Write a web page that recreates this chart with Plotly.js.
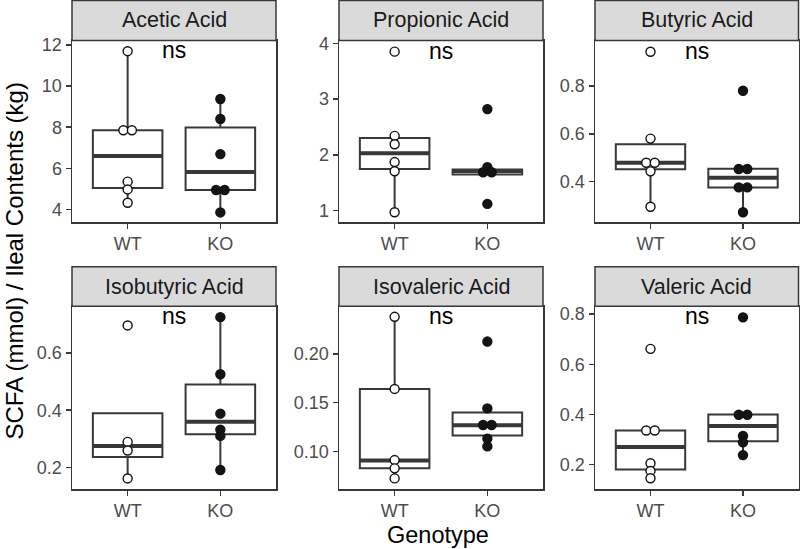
<!DOCTYPE html>
<html>
<head>
<meta charset="utf-8">
<script src="https://cdn.plot.ly/plotly-3.0.1.min.js"></script>
<style>html,body{margin:0;padding:0;background:#fff;}#chart{width:800px;height:549px;}</style>
</head>
<body>
<div id="chart"></div>
<script>
// ---- data ----
const acids = ['Acetic Acid','Propionic Acid','Butyric Acid','Isobutyric Acid','Isovaleric Acid','Valeric Acid'];
const groups = ['WT','KO'];

const wtPoints = [
  [11.7, 7.85, 7.85, 5.35, 4.97, 4.32],
  [3.85, 2.34, 2.19, 1.87, 1.705, 0.97],
  [0.943, 0.580, 0.479, 0.479, 0.443, 0.295],
  [0.697, 0.289, 0.259, 0.161],
  [0.2380, 0.1640, 0.0910, 0.0825, 0.0722],
  [0.6615, 0.336, 0.336, 0.2056, 0.175, 0.146]
];
const koPoints = [
  [9.37, 8.40, 6.69, 4.94, 4.94, 3.85],
  [2.82, 1.777, 1.687, 1.687, 1.12],
  [0.780, 0.453, 0.453, 0.376, 0.376, 0.272],
  [0.726, 0.526, 0.388, 0.332, 0.310, 0.1905],
  [0.2126, 0.144, 0.127, 0.127, 0.113, 0.105],
  [0.787, 0.399, 0.399, 0.314, 0.289, 0.238]
];

const wtQ1  = [5.04, 1.745, 0.452, 0.236, 0.0825, 0.181];
const wtMed = [6.60, 2.03, 0.479, 0.275, 0.0905, 0.270];
const wtQ3  = [7.85, 2.30, 0.556, 0.389, 0.164, 0.336];
const wtLo  = [4.32, 0.97, 0.295, 0.161, 0.0722, 0.146];
const wtHi  = [11.7, 2.34, 0.580, 0.389, 0.238, 0.336];
const koQ1  = [4.94, 1.645, 0.375, 0.316, 0.1162, 0.293];
const koMed = [5.82, 1.71, 0.416, 0.360, 0.1268, 0.354];
const koQ3  = [7.98, 1.735, 0.454, 0.490, 0.1397, 0.400];
const koLo  = [3.85, 1.645, 0.272, 0.1905, 0.105, 0.238];
const koHi  = [9.37, 1.735, 0.454, 0.726, 0.144, 0.400];

const yLo = [3.37, 0.79, 0.230, 0.124, 0.0613, 0.103];
const yHi = [12.22, 4.05, 0.990, 0.764, 0.2488, 0.831];

const yTickVals = [[4,6,8,10,12],[1,2,3,4],[0.4,0.6,0.8],[0.2,0.4,0.6],[0.10,0.15,0.20],[0.2,0.4,0.6,0.8]];
const yTickText = [['4','6','8','10','12'],['1','2','3','4'],['0.4','0.6','0.8'],['0.2','0.4','0.6'],['0.10','0.15','0.20'],['0.2','0.4','0.6','0.8']];

const sigLabel = 'ns';
const yTitle = 'SCFA (mmol) / Ileal Contents (kg)';
const xTitle = 'Genotype';

// ---- layout geometry (pixels) ----
const W = 800, H = 549;
const colPx = [[72, 276], [339, 543], [595, 798.5]];
const rowPx = [[40.5, 222.3], [306.3, 489]];   // panel top/bottom
const stripTop = [0.5, 266.7];
const FONT = 'Liberation Sans, Arial, Helvetica, sans-serif';
const LINE = '#383838';
const boxW = 0.75, dotStep = 0.092;

function stackOffsets(vals) {
  const counts = {}, idx = {};
  vals.forEach(v => counts[v] = (counts[v] || 0) + 1);
  return vals.map(v => {
    const k = idx[v] || 0; idx[v] = k + 1;
    return (k - (counts[v] - 1) / 2) * dotStep;
  });
}
function allPoints(i) { return wtPoints[i].concat(koPoints[i]); }

const traces = [], shapes = [], annotations = [];
const layout = {
  width: W, height: H, margin: {l: 0, r: 0, t: 0, b: 0},
  paper_bgcolor: '#fff', plot_bgcolor: '#fff', showlegend: false,
  font: {family: FONT}
};

acids.forEach((name, i) => {
  const r = Math.floor(i / 3), c = i % 3;
  const sfx = i === 0 ? '' : String(i + 1);
  const xa = 'x' + sfx, ya = 'y' + sfx;
  const [x0, x1] = colPx[c];
  const [t, b] = rowPx[r];
  layout['xaxis' + sfx] = {
    domain: [x0 / W, x1 / W], anchor: ya, type: 'linear',
    range: [-0.6, 1.6], tickvals: [0, 1], ticktext: groups,
    showgrid: false, zeroline: false, showline: true, mirror: true,
    linecolor: LINE, linewidth: 1.5, ticks: 'outside', ticklen: 5, tickwidth: 1.5, tickcolor: LINE,
    tickfont: {family: FONT, size: 18, color: '#4d4d4d'}, fixedrange: true
  };
  layout['yaxis' + sfx] = {
    domain: [1 - b / H, 1 - t / H], anchor: xa, type: 'linear',
    range: [yLo[i], yHi[i]], tickvals: yTickVals[i], ticktext: yTickText[i],
    showgrid: false, zeroline: false, showline: true, mirror: true,
    linecolor: LINE, linewidth: 1.5, ticks: 'outside', ticklen: 5, tickwidth: 1.5, tickcolor: LINE,
    tickfont: {family: FONT, size: 18, color: '#4d4d4d'}, fixedrange: true
  };

  const stats = [
    {q1: wtQ1[i], med: wtMed[i], q3: wtQ3[i], lo: wtLo[i], hi: wtHi[i], pts: wtPoints[i], fill: '#ffffff'},
    {q1: koQ1[i], med: koMed[i], q3: koQ3[i], lo: koLo[i], hi: koHi[i], pts: koPoints[i], fill: '#141414'}
  ];
  stats.forEach((s, g) => {
    traces.push({
      type: 'box', xaxis: xa, yaxis: ya, x: [g],
      q1: [s.q1], median: [s.med], q3: [s.q3], lowerfence: [s.lo], upperfence: [s.hi],
      width: boxW, whiskerwidth: 0, fillcolor: '#ffffff',
      line: {color: LINE, width: 2}, boxpoints: false, hoverinfo: 'skip'
    });
    traces.push({
      type: 'scatter', mode: 'lines', xaxis: xa, yaxis: ya,
      x: [g - boxW / 2, g + boxW / 2], y: [s.med, s.med],
      line: {color: LINE, width: 4}, hoverinfo: 'skip'
    });
  });
  stats.forEach((s, g) => {
    const off = stackOffsets(s.pts);
    traces.push({
      type: 'scatter', mode: 'markers', xaxis: xa, yaxis: ya,
      x: s.pts.map((v, k) => g + off[k]), y: s.pts,
      marker: {size: 9, color: s.fill, line: {color: '#111', width: 1.4}},
      cliponaxis: false, hoverinfo: 'skip'
    });
  });

  // facet strip
  shapes.push({
    type: 'rect', xref: 'paper', yref: 'paper', layer: 'above',
    x0: x0 / W, x1: x1 / W, y0: 1 - t / H, y1: 1 - stripTop[r] / H,
    fillcolor: '#dadada', line: {color: LINE, width: 1.5}
  });
  annotations.push({
    xref: 'paper', yref: 'paper', x: (x0 + x1) / 2 / W, y: 1 - (stripTop[r] + t) / 2 / H,
    text: name, showarrow: false, xanchor: 'center', yanchor: 'middle',
    font: {family: FONT, size: 21.5, color: '#1a1a1a'}
  });
  // significance label at the panel's maximum
  annotations.push({
    xref: xa, yref: ya, x: 0.5, y: Math.max(...allPoints(i)), text: sigLabel, showarrow: false,
    xanchor: 'center', yanchor: 'middle', yshift: 1,
    font: {family: FONT, size: 23, color: '#000'}
  });
});

annotations.push({
  xref: 'paper', yref: 'paper', x: 14 / W, y: 1 - 261.5 / H, text: yTitle, textangle: -90,
  showarrow: false, xanchor: 'center', yanchor: 'middle',
  font: {family: FONT, size: 24, color: '#000'}
});
annotations.push({
  xref: 'paper', yref: 'paper', x: 438 / W, y: 1 - 535 / H, text: xTitle,
  showarrow: false, xanchor: 'center', yanchor: 'middle',
  font: {family: FONT, size: 23.5, color: '#000'}
});

layout.shapes = shapes;
layout.annotations = annotations;

Plotly.newPlot('chart', traces, layout, {displayModeBar: false, staticPlot: true});
</script>
</body>
</html>
